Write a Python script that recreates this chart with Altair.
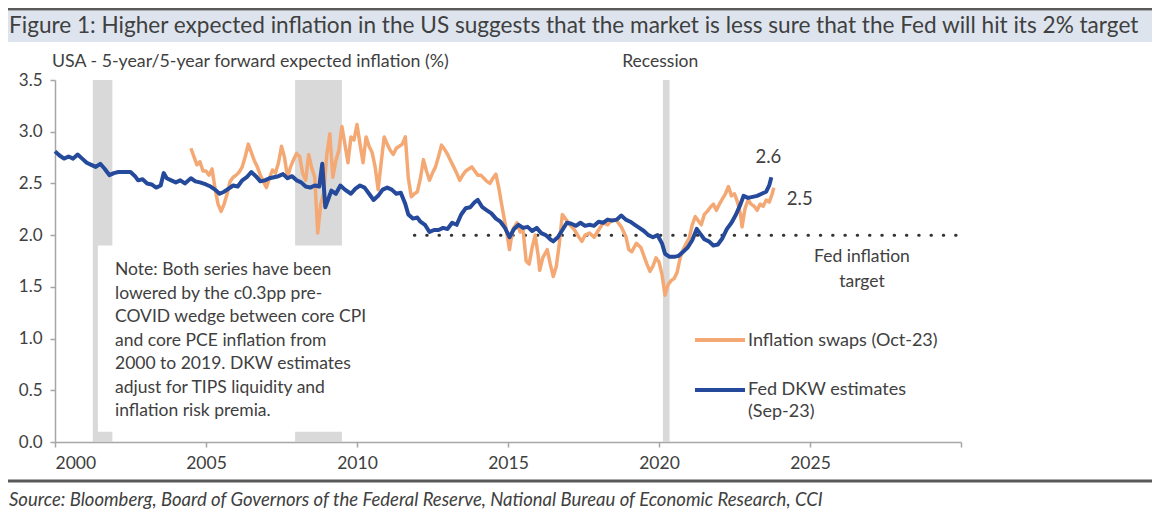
import altair as alt
import pandas as pd

# ---------------- data ----------------
dkw_years = [2000.0, 2000.15, 2000.3, 2000.45, 2000.6, 2000.75, 2000.9, 2001.05, 2001.2, 2001.35,
             2001.5, 2001.65, 2001.8, 2001.95, 2002.1, 2002.3, 2002.5, 2002.65, 2002.75, 2002.9,
             2003.05, 2003.2, 2003.35, 2003.5, 2003.6, 2003.7, 2003.85, 2004.0, 2004.15, 2004.3,
             2004.5, 2004.65, 2004.8, 2005.0, 2005.15, 2005.3, 2005.45, 2005.6, 2005.75, 2005.9,
             2006.05, 2006.2, 2006.35, 2006.5, 2006.65, 2006.8, 2006.95, 2007.1, 2007.25, 2007.4,
             2007.55, 2007.7, 2007.85, 2008.0, 2008.15, 2008.3, 2008.45, 2008.6, 2008.75, 2008.85,
             2008.95, 2009.05, 2009.15, 2009.3, 2009.45, 2009.6, 2009.8, 2009.95, 2010.1, 2010.25,
             2010.4, 2010.55, 2010.7, 2010.85, 2011.0, 2011.15, 2011.3, 2011.45, 2011.6, 2011.7,
             2011.85, 2012.0, 2012.1, 2012.25, 2012.4, 2012.55, 2012.7, 2012.85, 2013.0, 2013.15,
             2013.3, 2013.45, 2013.6, 2013.75, 2013.9, 2014.0, 2014.15, 2014.3, 2014.45, 2014.6,
             2014.75, 2014.9, 2015.05, 2015.2, 2015.35, 2015.5, 2015.65, 2015.8, 2015.95, 2016.1,
             2016.25, 2016.4, 2016.5, 2016.65, 2016.8, 2016.95, 2017.1, 2017.25, 2017.4, 2017.55,
             2017.7, 2017.85, 2018.0, 2018.15, 2018.3, 2018.45, 2018.6, 2018.75, 2018.9, 2019.05,
             2019.2, 2019.35, 2019.5, 2019.65, 2019.8, 2019.95, 2020.1, 2020.2, 2020.35, 2020.5,
             2020.65, 2020.8, 2020.95, 2021.1, 2021.25, 2021.35, 2021.5, 2021.65, 2021.8, 2021.95,
             2022.1, 2022.25, 2022.4, 2022.55, 2022.7, 2022.8, 2022.95, 2023.1, 2023.25, 2023.4,
             2023.55, 2023.65, 2023.72]
dkw_vals = [2.81, 2.77, 2.74, 2.76, 2.74, 2.78, 2.74, 2.70, 2.68, 2.66,
            2.69, 2.64, 2.58, 2.60, 2.61, 2.61, 2.61, 2.57, 2.53, 2.54,
            2.50, 2.49, 2.46, 2.48, 2.60, 2.55, 2.53, 2.51, 2.53, 2.50,
            2.55, 2.52, 2.51, 2.49, 2.47, 2.44, 2.40, 2.42, 2.45, 2.48,
            2.47, 2.53, 2.56, 2.61, 2.57, 2.52, 2.53, 2.55, 2.56, 2.57,
            2.59, 2.55, 2.57, 2.53, 2.51, 2.47, 2.46, 2.48, 2.47, 2.69,
            2.27, 2.35, 2.43, 2.40, 2.48, 2.44, 2.40, 2.45, 2.48, 2.46,
            2.40, 2.34, 2.38, 2.44, 2.46, 2.44, 2.40, 2.41, 2.30, 2.20,
            2.16, 2.17, 2.13, 2.10, 2.03, 2.05, 2.05, 2.07, 2.06, 2.12,
            2.10, 2.20, 2.26, 2.27, 2.32, 2.34, 2.27, 2.24, 2.21, 2.16,
            2.13, 2.07, 1.98, 2.06, 2.10, 2.07, 2.08, 2.04, 2.07, 2.02,
            2.00, 1.96, 1.94, 1.98, 2.05, 2.12, 2.11, 2.09, 2.12, 2.09,
            2.10, 2.09, 2.13, 2.12, 2.15, 2.14, 2.15, 2.19, 2.15, 2.13,
            2.10, 2.07, 2.04, 2.00, 1.98, 2.00, 1.92, 1.82, 1.79, 1.79,
            1.80, 1.84, 1.88, 1.95, 2.06, 2.02, 1.96, 1.94, 1.90, 1.91,
            1.97, 2.06, 2.12, 2.20, 2.30, 2.38, 2.36, 2.37, 2.38, 2.40,
            2.42, 2.48, 2.56]

swap_years = [2004.5, 2004.6, 2004.7, 2004.8, 2004.9, 2005.0, 2005.1, 2005.2, 2005.3, 2005.4,
              2005.5, 2005.6, 2005.7, 2005.8, 2005.9, 2006.0, 2006.1, 2006.2, 2006.3, 2006.4,
              2006.5, 2006.6, 2006.7, 2006.8, 2006.9, 2007.0, 2007.1, 2007.2, 2007.3, 2007.4,
              2007.5, 2007.6, 2007.7, 2007.8, 2007.9, 2008.0, 2008.1, 2008.2, 2008.3, 2008.4,
              2008.5, 2008.6, 2008.7, 2008.8, 2008.9, 2009.0, 2009.1, 2009.2, 2009.3, 2009.4,
              2009.5, 2009.6, 2009.7, 2009.8, 2009.9, 2010.0, 2010.1, 2010.2, 2010.3, 2010.4,
              2010.5, 2010.6, 2010.7, 2010.8, 2010.9, 2011.0, 2011.1, 2011.2, 2011.3, 2011.4,
              2011.5, 2011.6, 2011.7, 2011.8, 2011.9, 2012.0, 2012.1, 2012.2, 2012.3, 2012.4,
              2012.5, 2012.6, 2012.7, 2012.8, 2012.9, 2013.0, 2013.1, 2013.2, 2013.3, 2013.4,
              2013.5, 2013.6, 2013.7, 2013.8, 2013.9, 2014.0, 2014.1, 2014.2, 2014.3, 2014.4,
              2014.5, 2014.6, 2014.7, 2014.8, 2014.9, 2015.0, 2015.05, 2015.15, 2015.3, 2015.4,
              2015.5, 2015.6, 2015.7, 2015.8, 2015.9, 2016.0, 2016.05, 2016.15, 2016.3, 2016.4,
              2016.5, 2016.6, 2016.7, 2016.8, 2016.9, 2017.05, 2017.2, 2017.35, 2017.45, 2017.55,
              2017.7, 2017.85, 2018.0, 2018.15, 2018.3, 2018.45, 2018.6, 2018.75, 2018.9, 2019.0,
              2019.1, 2019.25, 2019.4, 2019.5, 2019.6, 2019.7, 2019.8, 2019.9, 2020.0, 2020.1,
              2020.2, 2020.3, 2020.4, 2020.5, 2020.6, 2020.7, 2020.8, 2020.9, 2021.0, 2021.1,
              2021.2, 2021.3, 2021.4, 2021.5, 2021.6, 2021.7, 2021.8, 2021.9, 2022.0, 2022.1,
              2022.2, 2022.3, 2022.4, 2022.5, 2022.6, 2022.7, 2022.75, 2022.85, 2022.95, 2023.05,
              2023.15, 2023.25, 2023.35, 2023.45, 2023.55, 2023.65, 2023.75, 2023.8]
swap_vals = [2.84, 2.76, 2.68, 2.71, 2.62, 2.62, 2.58, 2.64, 2.45, 2.30,
             2.23, 2.30, 2.40, 2.52, 2.56, 2.58, 2.61, 2.66, 2.76, 2.88,
             2.80, 2.72, 2.66, 2.58, 2.52, 2.46, 2.55, 2.63, 2.60, 2.70,
             2.86, 2.75, 2.56, 2.66, 2.73, 2.79, 2.76, 2.60, 2.53, 2.78,
             2.65, 2.56, 2.02, 2.30, 2.41, 2.78, 2.98, 2.56, 2.72, 2.82,
             3.05, 2.88, 2.70, 2.95, 2.92, 3.07, 2.88, 2.70, 2.95, 2.86,
             2.80, 2.66, 2.44, 2.70, 2.95, 2.88, 2.82, 2.78, 2.84, 2.86,
             2.88, 2.95, 2.55, 2.37, 2.40, 2.42, 2.55, 2.73, 2.62, 2.53,
             2.60, 2.66, 2.76, 2.87, 2.83, 2.78, 2.72, 2.66, 2.60, 2.53,
             2.58, 2.62, 2.64, 2.66, 2.62, 2.58, 2.58, 2.55, 2.52, 2.50,
             2.55, 2.59, 2.45, 2.28, 2.12, 1.95, 1.86, 2.05, 2.12, 2.03,
             2.05, 1.75, 1.72, 1.88, 2.00, 1.80, 1.66, 1.78, 1.86, 1.72,
             1.60, 1.70, 1.92, 2.20, 2.16, 2.10, 2.05, 1.98, 1.94, 2.00,
             2.02, 1.98, 2.05, 2.12, 2.10, 2.15, 2.14, 2.08, 1.99, 1.86,
             1.84, 1.92, 1.88, 1.80, 1.72, 1.65, 1.70, 1.78, 1.74, 1.62,
             1.42, 1.52, 1.56, 1.58, 1.64, 1.78, 1.86, 1.92, 1.97, 2.10,
             2.18, 2.14, 2.10, 2.20, 2.23, 2.27, 2.30, 2.24, 2.30, 2.35,
             2.40, 2.47, 2.38, 2.40, 2.32, 2.20, 2.08, 2.26, 2.34, 2.30,
             2.28, 2.24, 2.30, 2.28, 2.34, 2.32, 2.40, 2.46]

recession_start = [2001.25, 2007.95, 2020.13]
recession_end = [2001.9, 2009.5, 2020.35]

target_value = 2.0
target_start = 2011.9
target_end = 2030.0

x_ticks = [2000, 2005, 2010, 2015, 2020, 2025, 2030]
y_ticks = [0.0, 0.5, 1.0, 1.5, 2.0, 2.5, 3.0, 3.5]

swap_name = "Inflation swaps (Oct-23)"
dkw_name = ["Fed DKW estimates", "(Sep-23)"]

title_text = ("Figure 1: Higher expected inflation in the US suggests that the market "
              "is less sure that the Fed will hit its 2% target")
y_title_text = "USA - 5-year/5-year forward expected inflation (%)"
note_lines = ["Note: Both series have been",
              "lowered by the c0.3pp pre-",
              "COVID wedge between core CPI",
              "and core PCE inflation from",
              "2000 to 2019.  DKW estimates",
              "adjust for TIPS  liquidity and",
              "inflation risk premia."]
source_text = ("Source: Bloomberg, Board of Governors of the Federal Reserve, "
               "National Bureau of Economic Research, CCI")
target_label = ["Fed inflation", "target"]

# ---------------- styling ----------------
FONT = "Lato"
TXT = "#404040"
ORANGE = "#f4a974"
BLUE = "#254a9b"
GREY_BAND = "#d9d9d9"
W, H = 906, 362

xscale = alt.Scale(domain=[2000, 2030], nice=False, zero=False)
yscale = alt.Scale(domain=[0, 3.5], nice=False, zero=False)

dkw = pd.DataFrame({"year": dkw_years, "value": dkw_vals})
swp = pd.DataFrame({"year": swap_years, "value": swap_vals})
rec = pd.DataFrame({"start": recession_start, "end": recession_end})

xaxis = alt.Axis(values=x_ticks, format="d", title=None, grid=False,
                 labelExpr="datum.value == 2030 ? '' : datum.label",
                 labelFont=FONT, labelFontSize=17.5, labelColor=TXT, labelPadding=7,
                 domainColor="#a6a6a6", domainWidth=1.5, tickColor="#a6a6a6",
                 tickWidth=1.5, tickSize=5)
yaxis = alt.Axis(values=y_ticks, format=".1f", title=None, grid=False,
                 labelFont=FONT, labelFontSize=17, labelColor=TXT, labelPadding=8,
                 domainColor="#a6a6a6", domainWidth=1.5, tickColor="#a6a6a6",
                 tickWidth=1.5, tickSize=5)

bands = alt.Chart(rec).mark_rect(color=GREY_BAND).encode(
    x=alt.X("start:Q", scale=xscale, axis=xaxis),
    x2="end:Q",
    y=alt.datum(3.5, type="quantitative", scale=yscale, axis=yaxis),
    y2=alt.datum(0.0),
)

note_box = alt.Chart(pd.DataFrame({"a": [0]})).mark_rect(color="white").encode(
    x=alt.datum(2001.42, type="quantitative"), x2=alt.datum(2010.6),
    y=alt.datum(1.9, type="quantitative"), y2=alt.datum(0.1),
)

target = alt.Chart(pd.DataFrame({"s": [target_start], "e": [target_end], "v": [target_value]})).mark_rule(
    color="#333333", strokeWidth=3, strokeDash=[0.5, 11.8], strokeCap="round"
).encode(x="s:Q", x2="e:Q", y="v:Q")

swap_line = alt.Chart(swp).mark_line(color=ORANGE, strokeWidth=3.5, strokeJoin="round").encode(
    x="year:Q", y="value:Q")
dkw_line = alt.Chart(dkw).mark_line(color=BLUE, strokeWidth=4, strokeJoin="round").encode(
    x="year:Q", y="value:Q")

last_dkw = dkw.tail(1).assign(lbl=lambda d: d["value"].round(1).map("{:.1f}".format))
last_swp = swp.tail(1).assign(lbl=lambda d: d["value"].round(1).map("{:.1f}".format))
dkw_lbl = alt.Chart(last_dkw).mark_text(font=FONT, fontSize=18.5, color=TXT, dx=-3, dy=-20).encode(
    x="year:Q", y="value:Q", text="lbl:N")
swp_lbl = alt.Chart(last_swp).mark_text(font=FONT, fontSize=18.5, color=TXT, dx=26, dy=11).encode(
    x="year:Q", y="value:Q", text="lbl:N")

tgt_lbl = alt.Chart(pd.DataFrame({"x": [2026.72], "v": [target_value], "t": [target_label]})).mark_text(
    font=FONT, fontSize=17.5, color=TXT, dy=22, baseline="middle", lineHeight=25
).encode(x="x:Q", y=alt.Y("v:Q"), text="t")

rec_lbl = alt.Chart(pd.DataFrame({"x": [2020.24], "t": ["Recession"]})).mark_text(
    font=FONT, fontSize=17.5, color=TXT, dx=-6
).encode(x="x:Q", y=alt.value(-18), text="t:N")


def ptext(s, x, y, size, align="left", baseline="middle", **kw):
    return alt.Chart(pd.DataFrame({"t": [s]})).mark_text(
        font=FONT, fontSize=size, color=TXT, align=align, baseline=baseline, **kw
    ).encode(x=alt.value(x), y=alt.value(y), text="t")


def prule(x1, x2, y, color, width):
    return alt.Chart(pd.DataFrame({"a": [0]})).mark_rule(color=color, strokeWidth=width).encode(
        x=alt.value(x1), x2=alt.value(x2), y=alt.value(y))


title_band = alt.Chart(pd.DataFrame({"a": [0]})).mark_rect(color="#dde4ee").encode(
    x=alt.value(-47), x2=alt.value(1097), y=alt.value(-69), y2=alt.value(-38))

layers = [
    bands, note_box, target, swap_line, dkw_line, dkw_lbl, swp_lbl, tgt_lbl, rec_lbl,
    ptext(y_title_text, -3, -18, 17.8),
    ptext(note_lines, 60, 181, 17.5, baseline="top", lineHeight=23.5),
    prule(640, 690, 260, ORANGE, 4),
    ptext(swap_name, 693, 261, 18),
    prule(640, 690, 310, BLUE, 4),
    ptext(dkw_name, 693, 310, 18, baseline="middle", lineHeight=22),
    title_band,
    prule(-47, 1097, -71, "#595959", 3),
    ptext(title_text, -46, -54, 22.6),
    prule(-47, 1097, 401, "#595959", 3),
    ptext(source_text, -46, 420, 18.5, fontStyle="italic"),
]

chart = alt.layer(*layers).properties(
    width=W, height=H,
    autosize=alt.AutoSizeParams(type="none"),
    padding={"left": 47, "top": 72, "right": 191, "bottom": 72},
).configure_view(stroke=None)

chart.save("out.html", embed_options={"renderer": "svg", "actions": False})
